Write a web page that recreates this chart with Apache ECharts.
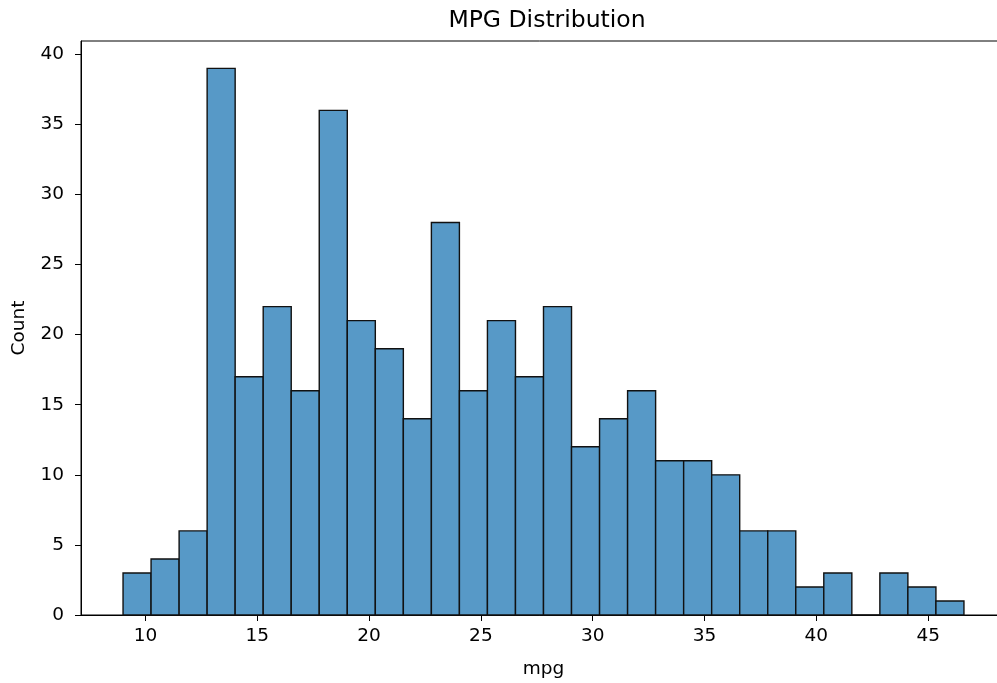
<!DOCTYPE html>
<html>
<head>
<meta charset="utf-8">
<script src="https://cdn.jsdelivr.net/npm/echarts@6/dist/echarts.min.js"></script>
<style>html,body{margin:0;padding:0;background:#fff;}#chart{width:997px;height:683px;}</style>
</head>
<body>
<div id="chart"></div>
<script>
// Bin edges (mpg) and counts
const binEdges = [9.00, 10.253, 11.507, 12.76, 14.013, 15.267, 16.52, 17.773, 19.027, 20.28,
  21.533, 22.787, 24.04, 25.293, 26.547, 27.8, 29.053, 30.307, 31.56, 32.813,
  34.067, 35.32, 36.573, 37.827, 39.08, 40.333, 41.587, 42.84, 44.093, 45.347, 46.6];
const counts = [3, 4, 6, 39, 17, 22, 16, 36, 21, 19, 14, 28, 16, 21, 17, 22, 12, 14, 16, 11,
  11, 10, 6, 6, 2, 3, 0, 3, 2, 1];
const xTicks = [10, 15, 20, 25, 30, 35, 40, 45];
const yTicks = [0, 5, 10, 15, 20, 25, 30, 35, 40];

const data = counts.map((c, i) => [binEdges[i], binEdges[i + 1], c]);
const font = 'DejaVu Sans';

const chart = echarts.init(document.getElementById('chart'), null, {renderer: 'canvas'});
chart.setOption({
  animation: false,
  backgroundColor: '#ffffff',
  title: {
    text: 'MPG Distribution', left: 542, top: 4, textAlign: 'center',
    textStyle: {fontFamily: font, fontSize: 23.5, fontWeight: 'normal', color: '#000'}
  },
  grid: {left: 81, top: 41, width: 925, height: 574, show: true, borderColor: '#000', borderWidth: 1,
    backgroundColor: 'transparent', outerBoundsMode: 'none', containLabel: false},
  xAxis: {
    type: 'value', min: 7.12, max: 48.48,
    name: 'mpg', nameLocation: 'middle', nameGap: 45,
    nameTextStyle: {fontFamily: font, fontSize: 18.5, color: '#000'},
    axisLine: {show: true, onZero: false, lineStyle: {color: '#000', width: 1}},
    axisTick: {show: true, length: 6, lineStyle: {color: '#000'}, customValues: xTicks},
    axisLabel: {fontFamily: font, fontSize: 18.5, color: '#000', margin: 12, customValues: xTicks},
    splitLine: {show: false}
  },
  yAxis: {
    type: 'value', min: 0, max: 40.95,
    name: 'Count', nameLocation: 'middle', nameGap: 52,
    nameTextStyle: {fontFamily: font, fontSize: 18.5, color: '#000'},
    axisLine: {show: true, lineStyle: {color: '#000', width: 1}},
    axisTick: {show: true, length: 6, lineStyle: {color: '#000'}, customValues: yTicks},
    axisLabel: {fontFamily: font, fontSize: 18.5, color: '#000', margin: 17, customValues: yTicks},
    splitLine: {show: false}
  },
  series: [{
    type: 'custom',
    data: data,
    encode: {x: [0, 1], y: 2},
    renderItem: function (params, api) {
      const p0 = api.coord([api.value(0), api.value(2)]);
      const p1 = api.coord([api.value(1), 0]);
      return {
        type: 'rect',
        shape: {x: p0[0], y: p0[1], width: p1[0] - p0[0], height: p1[1] - p0[1]},
        style: {fill: '#5799c7', stroke: '#111111', lineWidth: 1.4}
      };
    }
  }]
});
</script>
</body>
</html>
